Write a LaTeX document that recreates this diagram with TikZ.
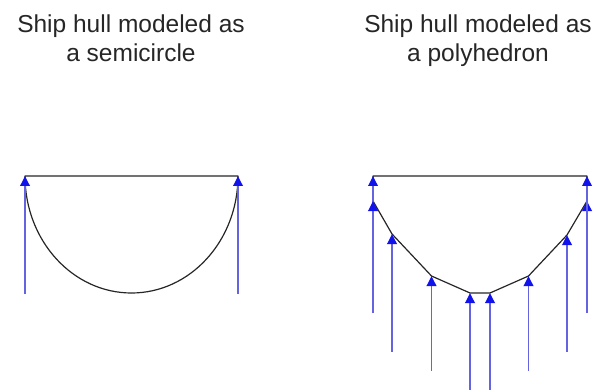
\documentclass[tikz,border=0pt]{standalone}
\usepackage{fontspec}
\setmainfont{Liberation Sans}
\usepackage{tikz}
\usetikzlibrary{arrows.meta}
\usepackage{xcolor}
\definecolor{forceline}{RGB}{100,100,225}
\definecolor{forcehead}{RGB}{18,18,235}

\begin{document}
\begin{tikzpicture}[
    x=1pt, y=-1pt,
    ttl/.style={font=\fontsize{24.5}{29}\selectfont, text=black!85, align=center, inner sep=0pt, anchor=north},
    hull/.style={draw=black!85, line width=1.2pt, line join=round},
    force/.style={draw=forceline, line width=1.8pt, -{Triangle[length=10pt, width=9.5pt, color=forcehead]}}
  ]
    \useasboundingbox (0,0) rectangle (602,390);
    % titles
    \node[ttl] (semititle) at (131,15) {Ship hull modeled as\\a semicircle};
    \node[ttl] (polytitle) at (478,15) {Ship hull modeled as\\a polyhedron};
    % semicircle hull
    \coordinate (sl) at (25,176);
    \coordinate (sr) at (238,176);
    \coordinate (slb) at (25,294);
    \coordinate (srb) at (238,294);
    \draw[hull] (sl) -- (sr) arc[start angle=0, end angle=180, x radius=106.5, y radius=117] -- cycle;
    \draw[force] (slb) -- (sl);
    \draw[force] (srb) -- (sr);
    % polyhedron hull
    \coordinate (ptl) at (373,176);
    \coordinate (p1) at (373,201);
    \coordinate (p2) at (392,234);
    \coordinate (p3) at (431.5,276);
    \coordinate (p4) at (470,293);
    \coordinate (p5) at (490,293);
    \coordinate (p6) at (528.5,276);
    \coordinate (p7) at (567,235);
    \coordinate (p8) at (587,201);
    \coordinate (ptr) at (587,176);
    \draw[hull] (ptl) -- (ptr) -- (p8) -- (p7) -- (p6) -- (p5) -- (p4) -- (p3) -- (p2) -- (p1) -- cycle;
    % pressure arrows
    \coordinate (ptlb) at (373,295);
    \coordinate (p1b) at (373,313);
    \coordinate (p2b) at (392,352);
    \coordinate (p3b) at (431.5,371);
    \coordinate (p4b) at (470,390);
    \coordinate (p5b) at (490,390);
    \coordinate (p6b) at (528.5,371);
    \coordinate (p7b) at (567,352);
    \coordinate (p8b) at (587,313);
    \coordinate (ptrb) at (587,295);
    \draw[force] (ptlb) -- (ptl);
    \draw[force] (p1b) -- (p1);
    \draw[force] (p2b) -- (p2);
    \draw[force] (p3b) -- (p3);
    \draw[force] (p4b) -- (p4);
    \draw[force] (p5b) -- (p5);
    \draw[force] (p6b) -- (p6);
    \draw[force] (p7b) -- (p7);
    \draw[force] (p8b) -- (p8);
    \draw[force] (ptrb) -- (ptr);
\end{tikzpicture}
\end{document}
